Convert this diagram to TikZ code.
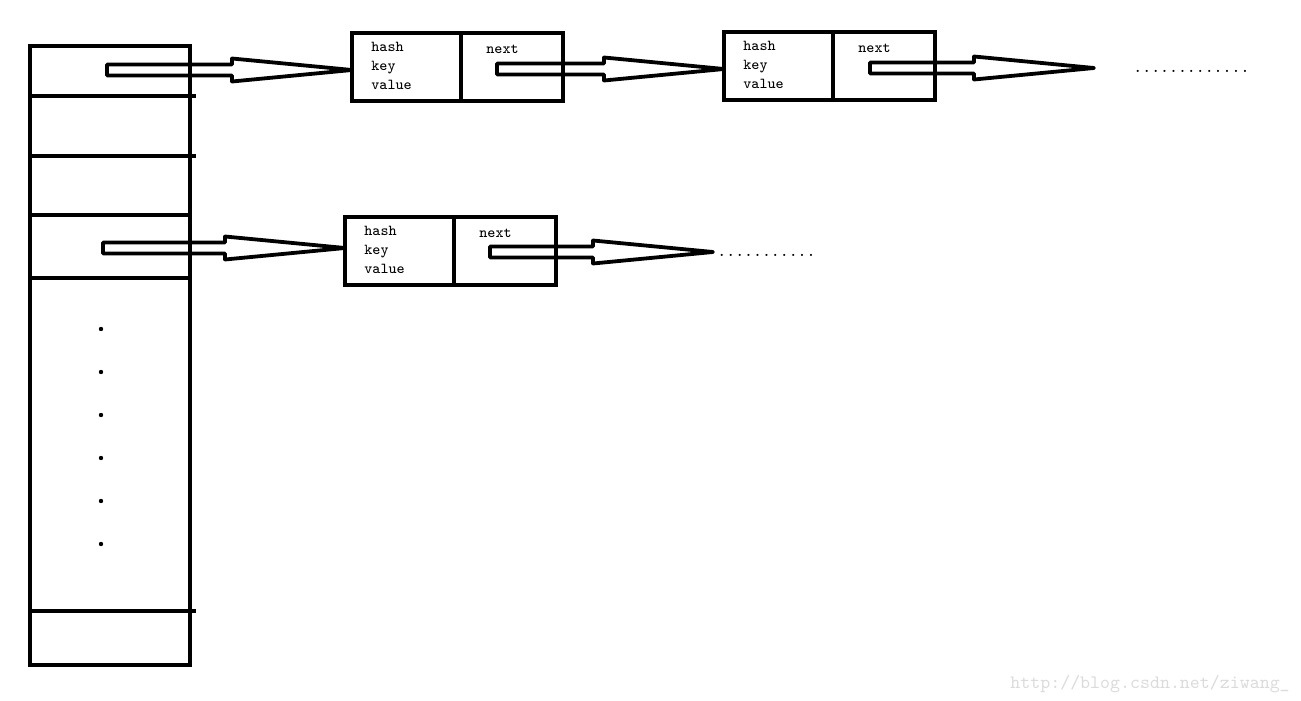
\documentclass[tikz,border=0pt]{standalone}
\usepackage{fontspec}
\usetikzlibrary{positioning,calc}

% hollow block arrow from a point to a point
\newcommand{\fatarrow}[2]{%
  \draw[hollow] let \p1=(#1), \p2=(#2) in
    (\x1,{\y1+2.75pt}) -- ({\x2-60pt},{\y1+2.75pt}) -- ({\x2-60pt},{\y1+5.75pt})
    -- (\x2,\y1) -- ({\x2-60pt},{\y1-5.75pt}) -- ({\x2-60pt},{\y1-2.75pt})
    -- (\x1,{\y1-2.75pt}) -- cycle;}

\begin{document}
\begin{tikzpicture}[x=0.5pt, y=-0.5pt,
  cell/.style={draw, line width=2pt, minimum width=80pt, inner sep=0pt, outer sep=0pt},
  fieldbox/.style={draw, line width=2pt, minimum width=54.5pt, minimum height=34pt, inner sep=0pt, outer sep=0pt},
  nextbox/.style={fieldbox, minimum width=51pt},
  fieldtxt/.style={font=\ttfamily\fontsize{7.6}{9.5}\selectfont, align=left, inner sep=0pt, anchor=north west},
  nexttxt/.style={font=\ttfamily\fontsize{7.6}{9.5}\selectfont, inner sep=0pt, anchor=base west},
  hollow/.style={draw, line width=1.9pt, line join=round},
  more/.style={font=\ttfamily\fontsize{8.5}{9}\selectfont, inner sep=0pt, anchor=base west},
]
\useasboundingbox (0,0) rectangle (1301,701);

% bucket array
\node[cell, minimum height=25pt] (cell0) at (110,71) {};
\node[cell, minimum height=30pt, below=0pt of cell0] (cell1) {};
\node[cell, minimum height=29.5pt, below=0pt of cell1] (cell2) {};
\node[cell, minimum height=31.5pt, below=0pt of cell2] (cell3) {};
\node[cell, minimum height=166.5pt, below=0pt of cell3] (cellgap) {};
\node[cell, minimum height=27pt, below=0pt of cellgap] (cellend) {};
\foreach \c in {cell0,cell1,cellgap}
  \draw[line width=2pt] (\c.south east) -- ++(6,0);
\foreach \k in {0,...,5}
  \fill (101,329+43*\k) circle (1.1pt);

% entries
\node[fieldbox] (e1f) at (406.5,67) {};
\node[nextbox, right=0pt of e1f] (e1n) {};
\node[fieldbox] (e2f) at (778.5,66) {};
\node[nextbox, right=0pt of e2f] (e2n) {};
\node[fieldbox] (e3f) at (399.5,250.5) {};
\node[nextbox, right=0pt of e3f] (e3n) {};

\foreach \e in {e1,e2,e3} {
  \node[fieldtxt] at ($(\e f.north west)+(19,9)$) {hash\\key\\value};
  \node[nexttxt] at ($(\e n.north west)+(25,21)$) {next};
}

% pointers
\coordinate (b0) at (107,70);
\coordinate (b3) at (103,248);
\coordinate (n1) at (497,69);
\coordinate (n2) at (870,68);
\coordinate (n3) at (490,252);
\coordinate (end2) at (1094,68);
\coordinate (end3) at (713,252);

\fatarrow{b0}{e1f.west}
\fatarrow{b3}{e3f.west}
\fatarrow{n1}{e2f.west}
\fatarrow{n2}{end2}
\fatarrow{n3}{end3}

\node[more] (more2) at (1133,73) {.............};
\node[more] (more3) at (717,256) {...........};

% watermark
\node[font=\ttfamily\fontsize{9.5}{10}\selectfont, text=black!14, inner sep=0pt, anchor=base west] (mark) at (1010,688) {http://blog.csdn.net/ziwang\_};
\end{tikzpicture}
\end{document}
